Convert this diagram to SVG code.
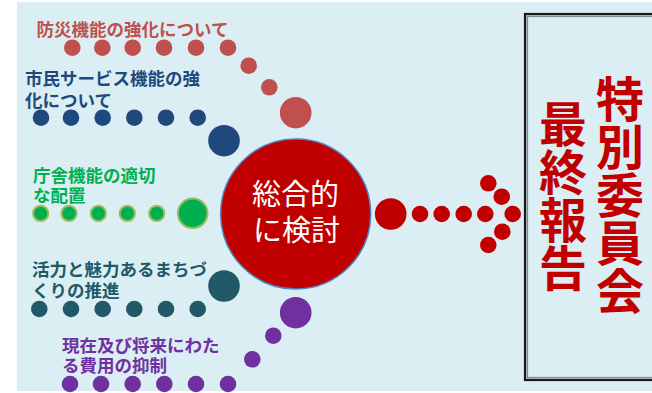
<svg xmlns="http://www.w3.org/2000/svg" width="652" height="393" viewBox="0 0 652 393">
<style>
.lbl{font-family:"Noto Sans CJK JP","Noto Sans",sans-serif;font-size:17.5px;font-weight:bold}
.ctr{font-family:"Noto Sans CJK JP","Noto Sans",sans-serif;font-size:29px;fill:#FFFFFF;text-anchor:middle}
.big{font-family:"Noto Sans CJK JP","Noto Sans",sans-serif;font-size:48px;font-weight:bold;fill:#C00000;writing-mode:vertical-rl}
.red{fill:#C0504D}
.navy{fill:#1F497D}
.grn{fill:#00B050;stroke:#9BBB59;stroke-width:2}
.teal{fill:#215968}
.pur{fill:#7030A0}
.arr{fill:#C00000}
</style>
<rect x="0" y="0" width="652" height="393" fill="#FFFFFF"/>
<rect x="17" y="2" width="635" height="389" fill="#DAEEF3"/>

<g id="connectors">
  <g id="chain-red" class="red">
    <circle cx="72.3" cy="47.7" r="8.3"/><circle cx="102.3" cy="47.7" r="8.3"/><circle cx="132.7" cy="47.7" r="8.3"/>
    <circle cx="164" cy="47.7" r="8.3"/><circle cx="196" cy="47.7" r="8.3"/><circle cx="228" cy="47.7" r="8.3"/>
    <circle cx="248.7" cy="65.7" r="8.3"/><circle cx="269.3" cy="87.3" r="8.3"/><circle cx="295.7" cy="112.7" r="15.8"/>
  </g>
  <g id="chain-navy" class="navy">
    <circle cx="41" cy="117.7" r="8.3"/><circle cx="71" cy="117.7" r="8.3"/><circle cx="102.7" cy="117.7" r="8.3"/>
    <circle cx="134.3" cy="117.7" r="8.3"/><circle cx="166" cy="117.7" r="8.3"/><circle cx="197.7" cy="117.7" r="8.3"/>
    <circle cx="224" cy="140.7" r="15.8"/>
  </g>
  <g id="chain-green" class="grn">
    <circle cx="40.7" cy="213.3" r="7.6"/><circle cx="69" cy="213.3" r="7.6"/><circle cx="98.3" cy="213.3" r="7.6"/>
    <circle cx="127.3" cy="213.3" r="7.6"/><circle cx="156.7" cy="213.3" r="7.6"/><circle cx="192.7" cy="213.3" r="14.8"/>
  </g>
  <g id="chain-teal" class="teal">
    <circle cx="39.3" cy="309" r="8.3"/><circle cx="71" cy="309" r="8.3"/><circle cx="102.7" cy="309" r="8.3"/>
    <circle cx="134.3" cy="309" r="8.3"/><circle cx="166" cy="309" r="8.3"/><circle cx="197.7" cy="309" r="8.3"/>
    <circle cx="224" cy="286" r="15.8"/>
  </g>
  <g id="chain-purple" class="pur">
    <circle cx="70" cy="384" r="8.3"/><circle cx="101" cy="384" r="8.3"/><circle cx="132.7" cy="384" r="8.3"/>
    <circle cx="164.3" cy="384" r="8.3"/><circle cx="196" cy="384" r="8.3"/><circle cx="228" cy="384" r="8.3"/>
    <circle cx="252.3" cy="359.3" r="8.3"/><circle cx="273.3" cy="335.7" r="8.3"/><circle cx="295.7" cy="312.7" r="15.8"/>
  </g>
  <g id="chain-arrow" class="arr">
    <circle cx="390.7" cy="214" r="15.8"/>
    <circle cx="420" cy="214" r="8.3"/><circle cx="441.7" cy="214" r="8.3"/><circle cx="463.7" cy="214" r="8.3"/>
    <circle cx="485.3" cy="214" r="8.3"/><circle cx="512.7" cy="214" r="8.3"/>
    <circle cx="488.3" cy="183.3" r="8.3"/><circle cx="501.7" cy="196.7" r="8.3"/>
    <circle cx="502.3" cy="231.7" r="8.3"/><circle cx="488.3" cy="245" r="8.3"/>
  </g>
</g>

<g id="label-bousai">
  <text class="lbl" x="36.5" y="35.5" fill="#C0504D">防災機能の強化について</text>
</g>
<g id="label-shimin">
  <text class="lbl" fill="#1F497D"><tspan x="25" y="85">市民サービス機能の強</tspan><tspan x="25" y="106.5">化について</tspan></text>
</g>
<g id="label-chousha">
  <text class="lbl" fill="#00B050"><tspan x="33" y="181.5">庁舎機能の適切</tspan><tspan x="33" y="202">な配置</tspan></text>
</g>
<g id="label-katsuryoku">
  <text class="lbl" fill="#215968"><tspan x="32" y="275.5">活力と魅力あるまちづ</tspan><tspan x="32" y="297">くりの推進</tspan></text>
</g>
<g id="label-genzai">
  <text class="lbl" fill="#7030A0"><tspan x="62" y="352">現在及び将来にわた</tspan><tspan x="62" y="372">る費用の抑制</tspan></text>
</g>

<g id="center">
  <circle cx="295.7" cy="214" r="75" fill="#C00000" stroke="#4F81BD" stroke-width="1.5"/>
  <text class="ctr"><tspan x="295.5" y="205">総合的</tspan><tspan x="296.5" y="241">に検討</tspan></text>
</g>

<g id="report-box">
  <rect x="525" y="14" width="140" height="366" fill="#DAEEF3" stroke="#1A1A1A" stroke-width="2.2"/>
  <rect x="527.3" y="16.3" width="140" height="361.4" fill="none" stroke="#7F8C8D" stroke-width="1.6"/>
  <text class="big" x="620" y="75">特別委員会</text>
  <text class="big" x="563" y="99.7">最終報告</text>
</g>
</svg>
